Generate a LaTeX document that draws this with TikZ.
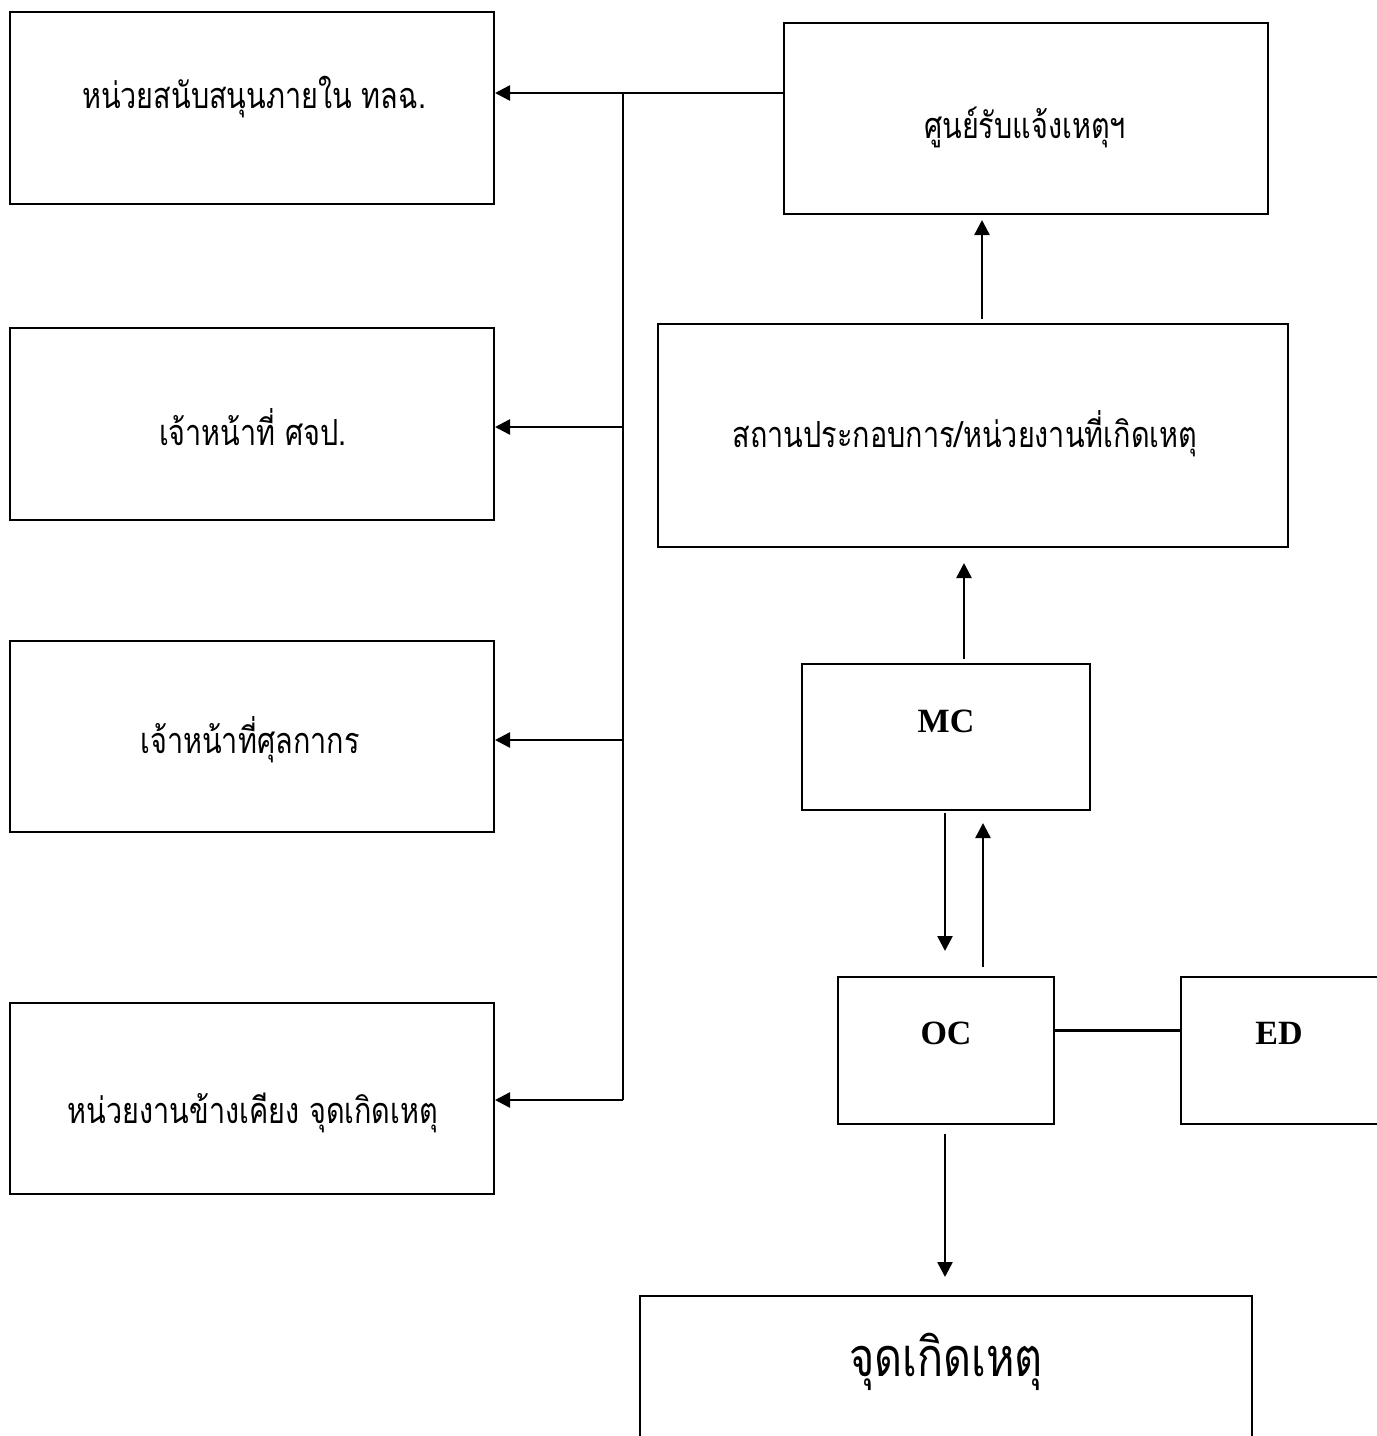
\documentclass[tikz,border=0pt]{standalone}
\usepackage{fontspec}
\setmainfont{Liberation Serif}
\newfontfamily\thaifont[Script=Thai,FakeStretch=0.8]{Loma}
\usetikzlibrary{arrows.meta,calc}
\begin{document}
\begin{tikzpicture}[x=1pt,y=-1pt,
  box/.style 2 args={draw,line width=2pt,inner sep=0pt,minimum width=#1,minimum height=#2},
  thai/.style={font=\thaifont\fontsize{36}{42}\selectfont,inner sep=0pt},
  bigthai/.style={font=\thaifont\fontsize{54}{64}\selectfont,inner sep=0pt},
  lat/.style={font=\bfseries\fontsize{34}{40}\selectfont,inner sep=0pt},
  ln/.style={line width=2.5pt},
  arr/.style={line width=2.5pt,-{Triangle[length=15pt,width=15pt]}}]
\useasboundingbox (0,0) rectangle (1377,1436);
% boxes
\node[box={484pt}{192pt}] (b1) at (252,108) {};
\node[box={484pt}{192pt}] (b2) at (252,424) {};
\node[box={484pt}{191pt}] (b3) at (252,736.5) {};
\node[box={484pt}{191pt}] (b4) at (252,1098.5) {};
\node[box={484pt}{191pt}] (sr) at (1026,118.5) {};
\node[box={630pt}{223pt}] (sp) at (973,435.5) {};
\node[box={288pt}{146pt}] (mc) at (946,737) {};
\node[box={216pt}{147pt}] (oc) at (946,1050.5) {};
\node[box={200pt}{147pt}] (ed) at (1281,1050.5) {};
\node[box={612pt}{200pt}] (ip) at (946,1396) {};
% texts
\node[thai] (t1) at (254,97) {หน่วยสนับสนุนภายใน ทลฉ.};
\node[thai] (t2) at (253,427) {เจ้าหน้าที่ ศจป.};
\node[thai] (t3) at (250,740) {เจ้าหน้าที่ศุลกากร};
\node[thai] (t4) at (253,1113) {หน่วยงานข้างเคียง จุดเกิดเหตุ};
\node[thai] (t5) at (1025,127) {ศูนย์รับแจ้งเหตุฯ};
\node[thai] (t6) at (965,434) {สถานประกอบการ/หน่วยงานที่เกิดเหตุ};
\node[lat] (t7) at (946,721) {MC};
\node[lat] (t8) at (946,1033) {OC};
\node[lat] (t9) at (1279,1033) {ED};
\node[bigthai] (t10) at (946,1362) {จุดเกิดเหตุ};
% bus
\coordinate (j1) at (623,93);
\coordinate (j2) at (623,427);
\coordinate (j3) at (623,740);
\coordinate (j4) at (623,1100);
\draw[ln] (j1) -- (j4);
\draw[arr] (sr.west |- j1) -- (b1.east |- j1);
\draw[arr] (j2) -- (b2.east |- j2);
\draw[arr] (j3) -- (b3.east |- j3);
\draw[arr] (j4) -- (b4.east |- j4);
% right column
\draw[arr] ($(sp.north)+(9,-4)$) -- ($(sr.south)+(-44,5)$);
\draw[arr] ($(mc.north)+(18,-4)$) -- ($(sp.south)+(-9,15)$);
\draw[arr] ($(mc.south)+(-1,2)$) -- ($(oc.north)+(-1,-25)$);
\draw[arr] ($(oc.north)+(37,-9)$) -- ($(mc.south)+(37,12)$);
\draw[arr] ($(oc.south)+(-1,9)$) -- ($(ip.north)+(-1,-18)$);
\coordinate (ol) at ($(oc.east)+(0,-20)$);
\draw[ln] (ol) -- (ed.west |- ol);
\end{tikzpicture}
\end{document}
